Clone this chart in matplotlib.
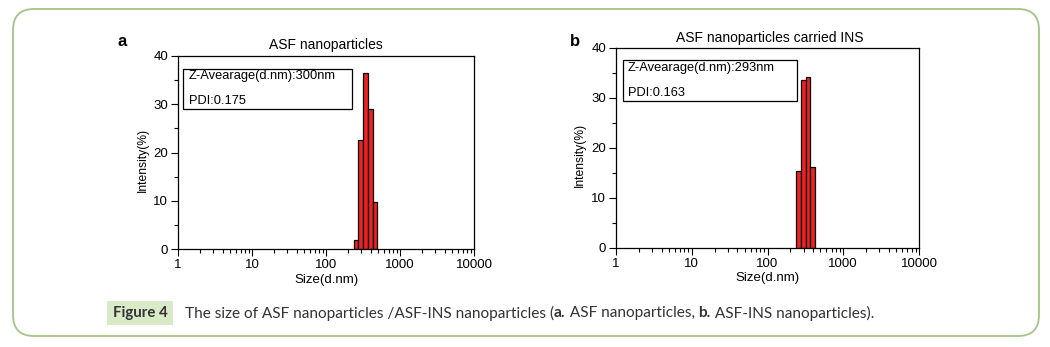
import numpy as np
import matplotlib.pyplot as plt
from matplotlib.patches import FancyBboxPatch, Rectangle
from matplotlib.ticker import FixedLocator, NullFormatter

# DLS size distributions (intensity %) for the two samples
size_a = [255.0, 295.3, 342.0, 396.1, 458.7]
intensity_a = [1.9, 22.6, 36.4, 29.0, 9.7]
size_b = [255.0, 295.3, 342.0, 396.1]
intensity_b = [15.4, 33.7, 34.2, 16.3]

titles = ['ASF nanoparticles', 'ASF nanoparticles carried INS']
zavg = ['Z-Avearage(d.nm):300nm', 'Z-Avearage(d.nm):293nm']
pdi = ['PDI:0.175', 'PDI:0.163']
xticks = [1, 10, 100, 1000, 10000]
xtick_labels = ['1', '10', '100', '1000', '10000']
yticks = [0, 10, 20, 30, 40]

W, H = 1050, 347
plt.rcParams['font.family'] = ['Liberation Sans', 'DejaVu Sans']
fig = plt.figure(figsize=(W / 100, H / 100), dpi=100)

def px(x0, y0, x1, y1):
    # pixel box (top-left origin) -> figure fraction rect
    return [x0 / W, 1 - y1 / H, (x1 - x0) / W, (y1 - y0) / H]

half = 0.0318  # half bin width in decades
panels = [
    dict(rect=px(178, 56, 474, 249), sizes=size_a, vals=intensity_a,
         box=(0.016, 0.727, 0.571, 0.206), rows=(0.896, 0.768), tx=0.037,
         letter=(122, 42), title=(326, 45), ylab=(143, 160), xlab=(326, 280)),
    dict(rect=px(616, 48, 919, 248), sizes=size_b, vals=intensity_b,
         box=(0.022, 0.735, 0.574, 0.205), rows=(0.899, 0.774), tx=0.04,
         letter=(575, 42), title=(770, 38), ylab=(580, 155), xlab=(767, 278)),
]

for i, p in enumerate(panels):
    ax = fig.add_axes(p['rect'])
    c = np.array(p['sizes'])
    left = c * 10 ** (-half)
    right = c * 10 ** half
    ax.bar(left, p['vals'], width=right - left, align='edge',
           color='#ee2222', edgecolor='black', linewidth=0.9)
    ax.set_xscale('log')
    ax.set_xlim(1, 10000)
    ax.set_ylim(0, 40)
    ax.xaxis.set_major_locator(FixedLocator(xticks))
    ax.set_xticklabels(xtick_labels)
    minors = [m * 10 ** d for d in range(4) for m in range(2, 10)]
    ax.xaxis.set_minor_locator(FixedLocator(minors))
    ax.xaxis.set_minor_formatter(NullFormatter())
    ax.set_yticks(yticks)
    ax.yaxis.set_minor_locator(FixedLocator([5, 15, 25, 35]))
    ax.tick_params(which='major', length=5, width=0.8, labelsize=9.5, pad=2)
    ax.tick_params(which='minor', length=3, width=0.8)
    for s in ax.spines.values():
        s.set_linewidth(0.9)
    bx, by, bw, bh = p['box']
    ax.add_patch(Rectangle((bx, by), bw, bh, transform=ax.transAxes,
                           fill=False, edgecolor='black', linewidth=0.9))
    ax.text(p['tx'], p['rows'][0], zavg[i], transform=ax.transAxes,
            fontsize=9.3, va='center')
    ax.text(p['tx'], p['rows'][1], pdi[i], transform=ax.transAxes,
            fontsize=9.3, va='center')

    lx, ly = p['letter']
    fig.text(lx / W, 1 - ly / H, 'ab'[i], fontsize=12, fontweight='bold',
             ha='center', va='center')
    tx, ty = p['title']
    fig.text(tx / W, 1 - ty / H, titles[i], fontsize=10, ha='center', va='center')
    yx, yy = p['ylab']
    fig.text(yx / W, 1 - yy / H, 'Intensity(%)', fontsize=8.7, rotation=90,
             ha='center', va='center')
    xx, xy = p['xlab']
    fig.text(xx / W, 1 - xy / H, 'Size(d.nm)', fontsize=9.5, ha='center', va='center')

# outer rounded frame
fig.patches.append(FancyBboxPatch((13 / W, 11 / H), 1026 / W, 327 / H,
                                  boxstyle='round,pad=0,rounding_size=0.02',
                                  transform=fig.transFigure, fill=False,
                                  edgecolor='#a3c585', linewidth=1.3,
                                  mutation_aspect=W / H))

# caption, with bold pieces laid out one after another
cap_font = ['Lato', 'DejaVu Sans']
cap_y = 1 - 313 / H
fig.text(140 / W, cap_y, 'Figure 4', fontsize=10.8, fontweight='bold',
         family=cap_font, color='#333333', ha='center', va='center',
         bbox=dict(boxstyle='square,pad=0.35', facecolor='#d9eac9', edgecolor='none'))
pieces = [('The size of ASF nanoparticles /ASF-INS nanoparticles (', 'normal'),
          ('a.', 'bold'), (' ASF nanoparticles, ', 'normal'),
          ('b.', 'bold'), (' ASF-INS nanoparticles).', 'normal')]
renderer = fig.canvas.get_renderer()
x = 185 / W
for txt, wgt in pieces:
    t = fig.text(x, cap_y, txt, fontsize=11.1, fontweight=wgt, family=cap_font,
                 color='#333333', ha='left', va='center')
    bb = t.get_window_extent(renderer=renderer)
    x += bb.width / W

fig.savefig('out.png', dpi=100)
